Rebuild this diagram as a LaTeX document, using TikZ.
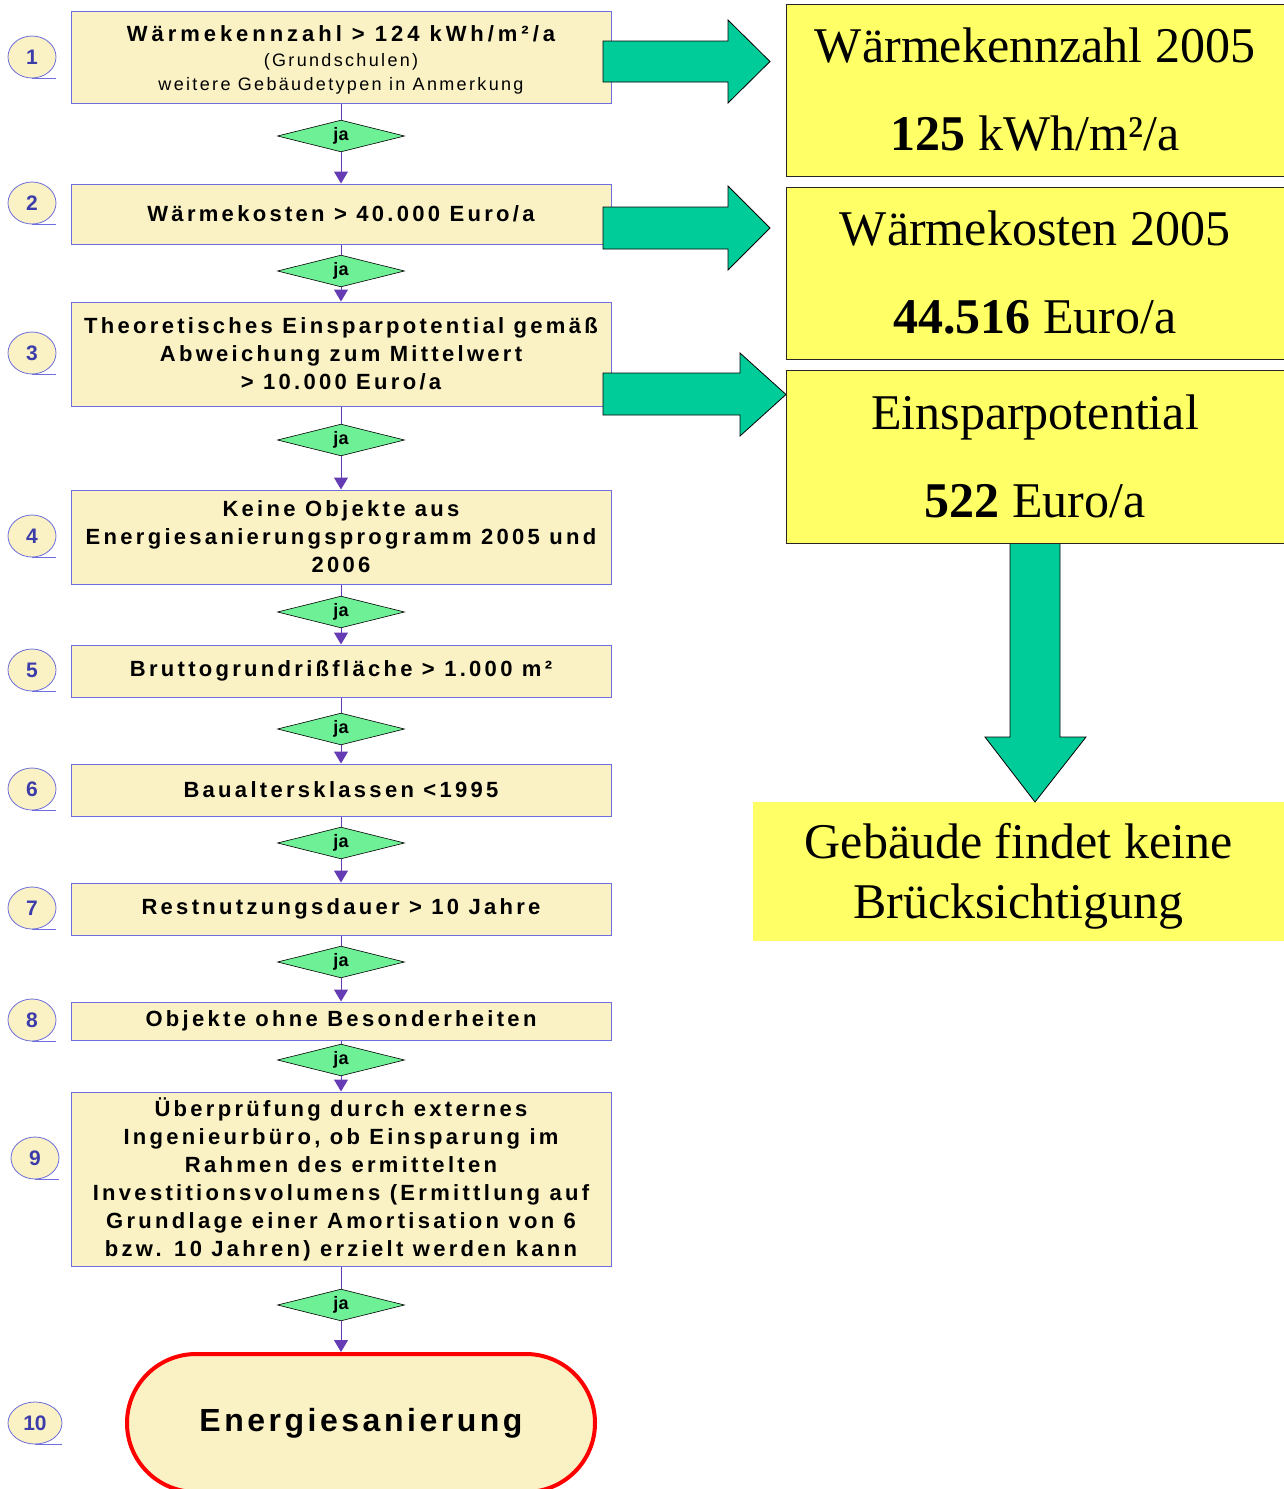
\documentclass[tikz,border=0pt]{standalone}
\usepackage{fontspec}
\setmainfont{Liberation Serif}
\newfontfamily\tsans{Liberation Sans}[LetterSpace=15]
\newfontfamily\tsansw{Liberation Sans}[LetterSpace=18]
\newfontfamily\tsansl{Liberation Sans}[LetterSpace=13]
\newfontfamily\tsanse{Liberation Sans}[LetterSpace=11]
\newfontfamily\psans{Liberation Sans}
\usetikzlibrary{shapes.geometric,shapes.misc,arrows.meta}
\definecolor{boxfill}{RGB}{250,242,196}
\definecolor{boxline}{RGB}{110,110,220}
\definecolor{connc}{RGB}{102,60,180}
\definecolor{diafill}{RGB}{110,240,150}
\definecolor{arrgreen}{RGB}{0,204,153}
\definecolor{yel}{RGB}{255,255,102}
\definecolor{numcol}{RGB}{60,60,170}
\tikzset{
  stepbox/.style={draw=boxline, fill=boxfill, line width=1pt, minimum width=540pt,
    inner sep=0pt, align=center, text=black, font=\tsans\bfseries\fontsize{22}{28}\selectfont},
  numbub/.style={ellipse, draw=boxline, fill=boxfill, line width=0.8pt, minimum width=48pt,
    minimum height=42pt, inner sep=0pt, text=numcol, font=\psans\bfseries\fontsize{21}{21}\selectfont},
  janode/.style={diamond, draw=black, line width=0.6pt, fill=diafill, minimum width=127pt,
    minimum height=26pt, inner sep=0pt, font=\psans\bfseries\fontsize{18}{18}\selectfont},
  conline/.style={draw=connc, line width=1pt},
  conarrow/.style={draw=connc, line width=1pt, -{Triangle[length=12pt,width=14pt]}},
  garrow/.style={fill=arrgreen, draw=black, line width=0.8pt, line join=miter},
  ybox/.style={draw=black!85, fill=yel, line width=0.8pt, minimum width=498pt, inner sep=0pt,
    align=center, font=\fontsize{50}{88}\selectfont},
  uline/.style={draw=boxline, line width=0.8pt}
}
\begin{document}
\begin{tikzpicture}[x=1pt,y=-1pt]
\useasboundingbox (0,0) rectangle (1284,1489);
\fill[white] (0,0) rectangle (1284,1489);

% left flow boxes
\node[stepbox, minimum height=92pt] (b1) at (341,57)
  {\rule{0pt}{22pt}{\tsansw\bfseries\fontsize{22}{26}\selectfont Wärmekennzahl > 124 kWh/m²/a}\\[-3pt]
   {\tsansl\mdseries\fontsize{18}{23}\selectfont (Grundschulen)}\\[-4pt]
   {\tsansl\mdseries\fontsize{18}{23}\selectfont weitere Gebäudetypen in Anmerkung}};
\node[stepbox, minimum height=60pt] (b2) at (341,214) {Wärmekosten > 40.000 Euro/a};
\node[stepbox, minimum height=104pt] (b3) at (341,354)
  {Theoretisches Einsparpotential gemäß\\Abweichung zum Mittelwert\\> 10.000 Euro/a};
\node[stepbox, minimum height=94pt] (b4) at (341,537)
  {Keine Objekte aus\\Energiesanierungsprogramm 2005 und\\2006};
\node[stepbox, minimum height=52pt] (b5) at (341,671) {Bruttogrundrißfläche > 1.000 m²};
\node[stepbox, minimum height=52pt] (b6) at (341,790) {Baualtersklassen <1995};
\node[stepbox, minimum height=52pt] (b7) at (341,909) {Restnutzungsdauer > 10 Jahre};
\node[stepbox, minimum height=38pt] (b8) at (341,1021) {Objekte ohne Besonderheiten};
\node[stepbox, minimum height=174pt] (b9) at (341,1179)
  {Überprüfung durch externes\\Ingenieurbüro, ob Einsparung im\\Rahmen des ermittelten\\Investitionsvolumens (Ermittlung auf\\Grundlage einer Amortisation von 6\\bzw. 10 Jahren) erzielt werden kann};
\node[rounded rectangle, draw=red, line width=4pt, fill=boxfill, minimum width=468pt,
  minimum height=138pt, inner sep=0pt, font=\tsanse\bfseries\fontsize{32}{32}\selectfont,
  text=black] (term) at (361,1423) {Energiesanierung};

% diamonds
\node[janode] (d1) at (341,136) {ja};
\node[janode] (d2) at (341,271) {ja};
\node[janode] (d3) at (341,440) {ja};
\node[janode] (d4) at (341,612) {ja};
\node[janode] (d5) at (341,729) {ja};
\node[janode] (d6) at (341,843) {ja};
\node[janode] (d7) at (341,962) {ja};
\node[janode] (d8) at (341,1060) {ja};
\node[janode] (d9) at (341,1305) {ja};

% connectors
\foreach \a/\b/\c in {b1/d1/b2, b2/d2/b3, b3/d3/b4, b4/d4/b5, b5/d5/b6, b6/d6/b7, b7/d7/b8, b8/d8/b9}{
  \draw[conline] (\a) -- (\b);
  \draw[conarrow] (\b) -- (\c);
}
\draw[conline] (b9) -- (d9);
\draw[conarrow] (d9.south) -- (d9.south |- term.north);

% number bubbles
\foreach \n/\x/\y in {1/32/57, 2/32/203, 3/32/353, 4/32/536, 5/32/670, 6/32/789, 7/32/908, 8/32/1020, 9/35/1158}{
  \node[numbub] (n\n) at (\x,\y) {\n};
  \draw[uline] (n\n.south) -- ++(24,0);
}
\node[numbub, minimum width=54pt] (n10) at (35,1423) {10};
\draw[uline] (n10.south) -- ++(27,0);

% green block arrows to the right
\draw[garrow] (603,41) -- (728,41) -- (728,20) -- (770,61.5) -- (728,103) -- (728,82) -- (603,82) -- cycle;
\draw[garrow] (603,207) -- (728,207) -- (728,186) -- (770,228) -- (728,270) -- (728,249) -- (603,249) -- cycle;
\draw[garrow] (603,373) -- (740,373) -- (740,353) -- (786,394.5) -- (740,436) -- (740,415) -- (603,415) -- cycle;

% bottom yellow field, its text and the down arrow
\fill[yel] (753,802) rectangle (1284,941);
\node[inner sep=0pt, align=center, font=\fontsize{50}{60}\selectfont] (rd) at (1018.5,876)
  {Gebäude findet keine\\Brücksichtigung};
\draw[garrow] (1010,543) -- (1010,737) -- (985,737) -- (1035,802) -- (1086,737) -- (1060,737) -- (1060,543) -- cycle;

% right yellow boxes
\node[ybox, minimum height=172pt] (ra) at (1035,90) {Wärmekennzahl 2005\\\textbf{125} kWh/m²/a};
\node[ybox, minimum height=172pt] (rb) at (1035,273) {Wärmekosten 2005\\\textbf{44.516} Euro/a};
\node[ybox, minimum height=173pt] (rc) at (1035,456.5) {Einsparpotential\\\textbf{522} Euro/a};
\end{tikzpicture}
\end{document}
